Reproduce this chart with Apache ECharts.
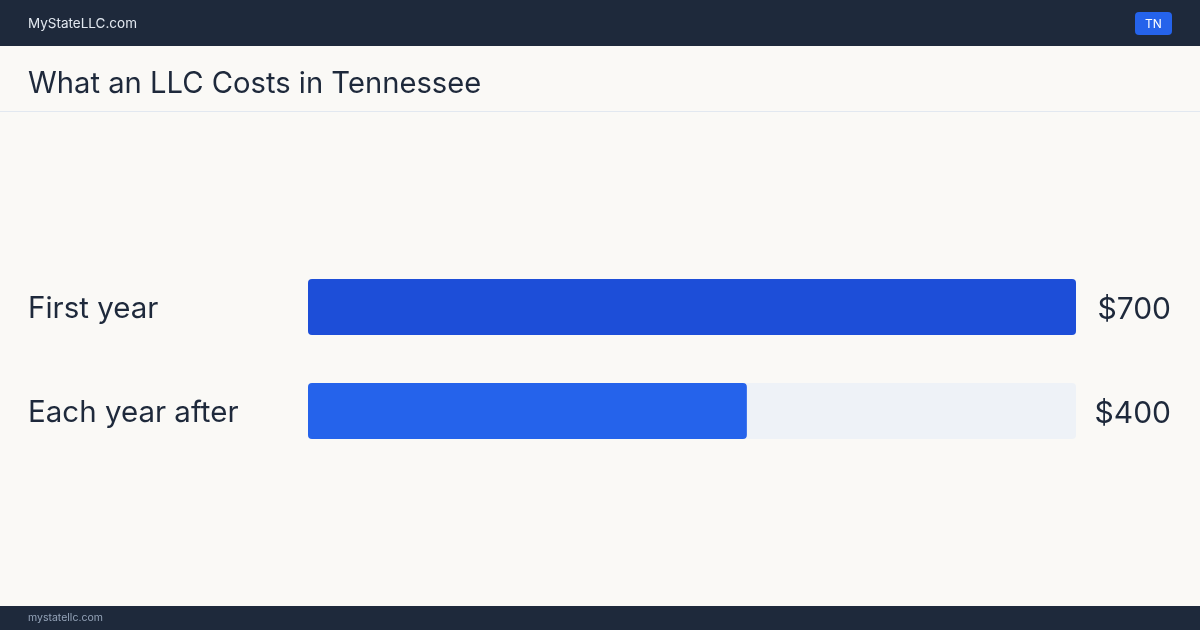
<!DOCTYPE html>
<html><head><meta charset="utf-8">
<script src="https://cdn.jsdelivr.net/npm/echarts@6/dist/echarts.min.js"></script>
<style>html,body{margin:0;padding:0;background:#faf9f6;}#c{width:1200px;height:630px;}</style>
</head><body><div id="c"></div>
<script>
const categories = ['First year', 'Each year after'];
const values = [700, 400];
const valueLabels = ['$700', '$400'];
const barColors = ['#1d4ed8', '#2563eb'];
const maxValue = 700;
const titleText = 'What an LLC Costs in Tennessee';
const brandText = 'MyStateLLC.com';
const badgeText = 'TN';
const footerText = 'mystatellc.com';

const FONT = 'Inter, "Noto Sans", sans-serif';
const chart = echarts.init(document.getElementById('c'), null, {renderer: 'canvas'});
chart.setOption({
  backgroundColor: '#faf9f6',
  animation: false,
  grid: {left: 308, right: 124, top: 255, bottom: 167},
  xAxis: {type: 'value', min: 0, max: maxValue, show: false},
  yAxis: [{
    type: 'category', data: categories, inverse: true,
    axisLine: {show: false}, axisTick: {show: false},
    axisLabel: {align: 'left', margin: 280, formatter: '{t|{value}}',
      rich: {t: {fontSize: 29.5, color: '#1e293b', fontFamily: FONT, padding: [5, 0, 0, 0]}}}
  }, {
    type: 'category', data: valueLabels, inverse: true, position: 'right',
    axisLine: {show: false}, axisTick: {show: false},
    axisLabel: {align: 'right', margin: 95, formatter: '{t|{value}}',
      rich: {t: {fontSize: 30, color: '#1e293b', fontFamily: FONT, padding: [5, 0, 0, 0]}}}
  }],
  series: [{
    type: 'bar', barWidth: 56,
    data: values.map((v, i) => ({value: v, itemStyle: {color: barColors[i]}})),
    itemStyle: {borderRadius: 4},
    showBackground: true,
    backgroundStyle: {color: '#eef2f7', borderRadius: 4}
  }],
  graphic: [
    {type: 'rect', left: 0, top: 0, shape: {width: 1200, height: 46}, style: {fill: '#1e293b'}},
    {type: 'text', left: 28, top: 17, style: {text: brandText, fontSize: 13.5, fill: '#e2e8f0', fontFamily: FONT}},
    {type: 'rect', left: 1135, top: 12, shape: {width: 37, height: 23, r: 4}, style: {fill: '#2563eb'}},
    {type: 'text', x: 1153.5, y: 24, style: {text: badgeText, fontSize: 12, fill: '#ffffff', fontFamily: FONT, align: 'center', verticalAlign: 'middle'}},
    {type: 'text', left: 28, top: 70, style: {text: titleText, fontSize: 29.2, fill: '#1e293b', fontFamily: FONT}},
    {type: 'rect', left: 0, top: 111, shape: {width: 1200, height: 1}, style: {fill: '#e2e8f0'}},
    {type: 'rect', left: 0, top: 606, shape: {width: 1200, height: 24}, style: {fill: '#1e293b'}},
    {type: 'text', left: 28, top: 612, style: {text: footerText, fontSize: 10.5, fill: '#94a3b8', fontFamily: FONT}}
  ]
});
</script></body></html>
